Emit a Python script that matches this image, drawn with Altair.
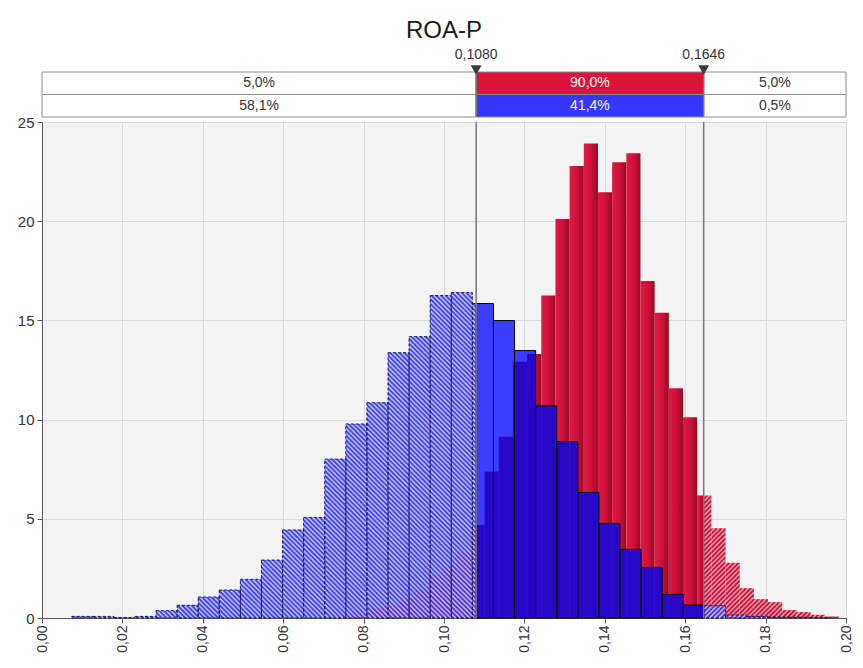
import altair as alt
import numpy as np
import pandas as pd

# ---------------- data ----------------
TITLE = "ROA-P"
X_DOMAIN = [0.0, 0.20]
X_TICKS = [0.00, 0.02, 0.04, 0.06, 0.08, 0.10, 0.12, 0.14, 0.16, 0.18, 0.20]
Y_DOMAIN = [0, 25]
Y_TICKS = [0, 5, 10, 15, 20, 25]
MARKERS = [0.1080, 0.1646]
TOP_BAND_PCT = [5.0, 90.0, 5.0]
BOTTOM_BAND_PCT = [58.1, 41.4, 0.5]

RED_START = 0.071325
RED_WIDTH = 0.003525
RED_DENSITY = [0.06, 0.12, 0.25, 0.50, 0.66, 0.91, 1.41, 2.17, 2.59, 3.34,
               4.69, 7.38, 9.14, 12.92, 13.31, 16.25, 20.11, 22.78, 23.92, 21.46,
               22.97, 23.42, 16.99, 15.39, 11.58, 10.12, 6.18, 4.52, 2.78, 1.50,
               0.95, 0.80, 0.40, 0.30, 0.16, 0.07]

BLUE_START = 0.00738
BLUE_WIDTH = 0.005246
BLUE_DENSITY = [0.08, 0.08, 0.02, 0.08, 0.37, 0.64, 1.06, 1.41, 1.95, 2.92,
                4.44, 5.07, 8.01, 9.78, 10.85, 13.37, 14.18, 16.25, 16.40, 15.85,
                14.99, 13.48, 10.69, 8.89, 6.33, 4.77, 3.46, 2.55, 1.19, 0.65,
                0.62, 0.15, 0.08, 0.05, 0.04, 0.02]

# ---------------- layout / style ----------------
W, H, BH = 804, 496, 45
FONT = "Liberation Sans"
RED_BAND = "#dc143c"
BLUE_BAND = "#3636ff"
BLUE_SOLID = "#3c3cff"
BLUE_HATCH = "#4444f6"
OVERLAP_SOLID = "#2808c6"
OVERLAP_HATCH = "#5432d2"
RED_HATCH = "#cc1238"
STRIPE_SPACING = 4.7  # px
PX_X = W / (X_DOMAIN[1] - X_DOMAIN[0])
PX_Y = H / (Y_DOMAIN[1] - Y_DOMAIN[0])


def split_bins(start, width, dens):
    m1, m2 = MARKERS
    rows = []
    for i, d in enumerate(dens):
        a = start + i * width
        b = a + width
        if a < m1:
            rows.append(dict(x0=a, x1=min(b, m1), h=d, part="hatch", side="left"))
        lo, hi = max(a, m1), min(b, m2)
        if lo < hi:
            rows.append(dict(x0=lo, x1=hi, h=d, part="solid", side="mid"))
        if b > m2:
            rows.append(dict(x0=max(a, m2), x1=b, h=d, part="hatch", side="right"))
    return pd.DataFrame(rows)


def overlap(top, under):
    rows = []
    for tx0, tx1, th, part in zip(top.x0, top.x1, top.h, top.part):
        for ux0, ux1, uh in zip(under.x0, under.x1, under.h):
            a, b = max(tx0, ux0), min(tx1, ux1)
            if a < b:
                rows.append(dict(x0=a, x1=b, h=min(th, uh), part=part))
    return pd.DataFrame(rows)


def stripes(df):
    out = []
    s = STRIPE_SPACING
    for x0d, x1d, hd, side in zip(df.x0, df.x1, df.h, df.side):
        x0, x1, h = x0d * PX_X, x1d * PX_X, hd * PX_Y
        if h < 1.5:
            continue
        if side == "left":  # "\" stripes : y = c - x
            for k in range(int(np.floor(x0 / s)), int(np.ceil((x1 + h) / s)) + 1):
                c = k * s
                xa, xb = max(x0, c - h), min(x1, c)
                if xb - xa > 0.3:
                    out.append(dict(xa=xa / PX_X, ya=(c - xa) / PX_Y,
                                    xb=xb / PX_X, yb=(c - xb) / PX_Y))
        else:  # "/" stripes : y = x - c
            for k in range(int(np.floor((x0 - h) / s)), int(np.ceil(x1 / s)) + 1):
                c = k * s
                xa, xb = max(x0, c), min(x1, c + h)
                if xb - xa > 0.3:
                    out.append(dict(xa=xa / PX_X, ya=(xa - c) / PX_Y,
                                    xb=xb / PX_X, yb=(xb - c) / PX_Y))
    return pd.DataFrame(out, columns=["xa", "ya", "xb", "yb"])


red = split_bins(RED_START, RED_WIDTH, RED_DENSITY)
blue = split_bins(BLUE_START, BLUE_WIDTH, BLUE_DENSITY)
red_solid = red[red.part == "solid"]
red_hatch = red[red.part == "hatch"]
blue_solid = blue[blue.part == "solid"]
blue_hatch = blue[blue.part == "hatch"]
ov = overlap(blue, red)
ov_solid = ov[ov.part == "solid"]
ov_hatch = ov[ov.part == "hatch"]
red_str = stripes(red_hatch[red_hatch.side == "right"])
blue_str = stripes(blue_hatch)
markers_df = pd.DataFrame({"m": MARKERS})

xscale = alt.Scale(domain=X_DOMAIN, nice=False, zero=False)
yscale = alt.Scale(domain=Y_DOMAIN, nice=False)
xaxis = alt.Axis(values=X_TICKS, labelAngle=270,
                 labelExpr="replace(format(datum.value, '.2f'), '.', ',')",
                 grid=True, tickSize=5, labelPadding=2, labelFontSize=14, title=None)
yaxis = alt.Axis(values=Y_TICKS, grid=True, tickSize=5, labelPadding=3, title=None)


def X(field):
    return alt.X(field, scale=xscale, axis=xaxis, title=None)


def Y(field):
    return alt.Y(field, scale=yscale, axis=yaxis, title=None)


red_grad = alt.LinearGradient(
    gradient="linear",
    stops=[alt.GradientStop(color="#e01a46", offset=0),
           alt.GradientStop(color="#cc1039", offset=0.55),
           alt.GradientStop(color="#960a25", offset=1)],
    x1=0, x2=1, y1=0, y2=0)

ZERO = alt.datum(Y_DOMAIN[0])


def bars(df, **mark):
    return alt.Chart(df).mark_rect(**mark).encode(
        x=X("x0:Q"), x2="x1:Q", y=Y("h:Q"), y2=ZERO)


def rules(df, **mark):
    return alt.Chart(df).mark_rule(**mark).encode(
        x=X("xa:Q"), x2="xb:Q", y=Y("ya:Q"), y2="yb:Q")


layers = [
    bars(red_solid, color=red_grad),
    bars(red_hatch, color=RED_HATCH),
    rules(red_str, color="white", strokeWidth=1.5, opacity=0.6),
    bars(blue_solid, color=BLUE_SOLID),
    bars(blue_hatch, color=BLUE_HATCH),
    bars(ov_solid, color=OVERLAP_SOLID),
    bars(ov_hatch, color=OVERLAP_HATCH),
    rules(blue_str, color="white", strokeWidth=1.5, opacity=0.68),
    bars(blue_solid, fillOpacity=0, stroke="#000000", strokeWidth=1),
    bars(blue_hatch, fillOpacity=0, stroke="#1a1a4a", strokeWidth=1, strokeDash=[3, 2]),
    alt.Chart(markers_df).mark_rule(color="#777777", strokeWidth=1.5).encode(x=X("m:Q")),
]

hist = alt.layer(*layers).properties(
    width=W, height=H, view=alt.ViewBackground(fill="#f3f3f3", stroke=None))

# ---------------- top band ----------------
band_df = pd.DataFrame({
    "row": ["top"] * 3 + ["bottom"] * 3,
    "x0": [X_DOMAIN[0], MARKERS[0], MARKERS[1]] * 2,
    "x1": [MARKERS[0], MARKERS[1], X_DOMAIN[1]] * 2,
    "p": TOP_BAND_PCT + BOTTOM_BAND_PCT,
    "fill": ["#ffffff", RED_BAND, "#ffffff", "#ffffff", BLUE_BAND, "#ffffff"],
    "tcolor": ["#333333", "#ffffff", "#333333", "#333333", "#ffffff", "#333333"],
})
bx = alt.X("x0:Q", scale=xscale, axis=None)
byrow = alt.Y("row:N", scale=alt.Scale(domain=["top", "bottom"], paddingInner=0,
                                       paddingOuter=0), axis=None)
b_rect = alt.Chart(band_df).mark_rect(stroke="#8a8a8a", strokeWidth=1).encode(
    x=bx, x2="x1:Q", y=byrow, fill=alt.Fill("fill:N", scale=None))
b_text = alt.Chart(band_df).transform_calculate(
    mid="(datum.x0 + datum.x1) / 2",
    label="replace(format(datum.p, '.1f'), '.', ',') + '%'",
).mark_text(font=FONT, fontSize=14).encode(
    x=alt.X("mid:Q", scale=xscale, axis=None), y=byrow, text="label:N",
    color=alt.Color("tcolor:N", scale=None))
b_rule = alt.Chart(markers_df).mark_rule(color="#777777", strokeWidth=1.5).encode(
    x=alt.X("m:Q", scale=xscale, axis=None), y=alt.value(-2), y2=alt.value(BH))
b_tri = alt.Chart(markers_df).mark_point(shape="triangle-down", filled=True, size=120,
                                         color="#3a3a3a", opacity=1).encode(
    x=alt.X("m:Q", scale=xscale, axis=None), y=alt.value(-2))
b_lab = alt.Chart(markers_df).transform_calculate(
    label="replace(format(datum.m, '.4f'), '.', ',')"
).mark_text(font=FONT, fontSize=14, color="#333333").encode(
    x=alt.X("m:Q", scale=xscale, axis=None), y=alt.value(-17), text="label:N")

band = alt.layer(b_rect, b_text, b_rule, b_tri, b_lab).properties(
    width=W, height=BH, view=alt.ViewBackground(fill=None, stroke=None))

chart = alt.vconcat(
    band, hist, spacing=5, bounds="flush",
    title=alt.TitleParams(TITLE, font=FONT, fontSize=24, fontWeight="normal",
                          color="#1a1a1a", anchor="middle", frame="group", offset=5),
).properties(
    padding={"left": 9, "top": 11, "right": 0, "bottom": 0}
).configure_view(stroke=None).configure_axis(
    labelFont=FONT, labelFontSize=15, labelColor="#333333",
    domainColor="#555555", tickColor="#555555", gridColor="#d9d9d9", gridWidth=1,
)

chart.save("out.html", embed_options={"renderer": "svg", "actions": False})
